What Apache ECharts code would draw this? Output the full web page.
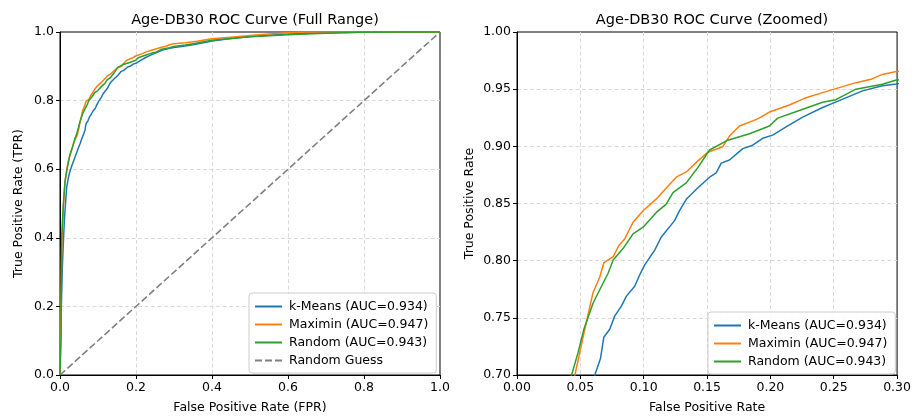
<!DOCTYPE html>
<html>
<head>
<meta charset="utf-8">
<title>Age-DB30 ROC</title>
<script src="https://cdn.jsdelivr.net/npm/echarts@6/dist/echarts.min.js"></script>
<style>
    html, body { margin: 0; padding: 0; background: #fff; }
    #chart { width: 914px; height: 419px; }
</style>
</head>
<body>
<div id="chart"></div>
<script>
// ROC points [FPR, TPR]
var kmeansRoc = [[0,0],[0.002,0.12],[0.004,0.22],[0.006,0.31],[0.009,0.39],[0.0114,0.45],[0.0145,0.50],[0.0175,0.546],[0.022,0.575],[0.0263,0.594],[0.031,0.61],[0.035,0.622],[0.041,0.64],[0.048,0.661],[0.053,0.675],[0.057,0.688],[0.0614,0.70],[0.0659,0.7144],[0.0685,0.733],[0.0732,0.740],[0.0772,0.7517],[0.0824,0.7603],[0.0864,0.769],[0.0929,0.7776],[0.0969,0.7877],[0.1008,0.7963],[0.1087,0.8092],[0.1139,0.8207],[0.1244,0.835],[0.1283,0.8437],[0.1336,0.8537],[0.1428,0.8638],[0.152,0.873],[0.1572,0.8767],[0.1612,0.8853],[0.1677,0.888],[0.1782,0.898],[0.186,0.901],[0.1939,0.907],[0.2018,0.9098],[0.2124,0.917],[0.2255,0.9256],[0.2412,0.934],[0.2543,0.940],[0.2727,0.9485],[0.2884,0.9529],[0.2994,0.9546],[0.32,0.958],[0.35,0.963],[0.4,0.974],[0.45,0.981],[0.5,0.987],[0.6,0.994],[0.7,0.998],[0.8,1.0],[1.0,1.0]];
var maximinRoc = [[0,0],[0.002,0.15],[0.0044,0.37],[0.0088,0.49],[0.013,0.56],[0.018,0.60],[0.022,0.625],[0.027,0.645],[0.033,0.665],[0.039,0.685],[0.0457,0.70],[0.0496,0.72],[0.0535,0.74],[0.060,0.772],[0.0654,0.786],[0.0685,0.798],[0.0759,0.8035],[0.0806,0.8135],[0.085,0.819],[0.0916,0.8336],[0.0995,0.8437],[0.110,0.854],[0.118,0.8638],[0.1257,0.873],[0.1336,0.8776],[0.1428,0.8873],[0.1506,0.8948],[0.1624,0.8997],[0.1677,0.909],[0.1756,0.9178],[0.19,0.924],[0.1992,0.930],[0.215,0.9362],[0.2268,0.942],[0.2412,0.947],[0.2517,0.9505],[0.2675,0.9557],[0.2793,0.9586],[0.2884,0.9629],[0.2994,0.9655],[0.33,0.969],[0.36,0.973],[0.4,0.980],[0.45,0.985],[0.5,0.990],[0.55,0.994],[0.6,0.998],[0.65,1.0],[1.0,1.0]];
var randomRoc = [[0,0],[0.0026,0.115],[0.0044,0.40],[0.0088,0.498],[0.0132,0.565],[0.020,0.608],[0.0263,0.642],[0.033,0.665],[0.0395,0.69],[0.0431,0.70],[0.0483,0.72],[0.0528,0.74],[0.0601,0.763],[0.0667,0.7776],[0.0719,0.789],[0.0759,0.8006],[0.0837,0.8106],[0.0916,0.8235],[0.0995,0.8293],[0.110,0.8422],[0.1178,0.8494],[0.1231,0.8595],[0.1336,0.868],[0.1428,0.8816],[0.152,0.8968],[0.1664,0.9054],[0.1835,0.911],[0.1992,0.9178],[0.2058,0.9247],[0.2228,0.9313],[0.2412,0.9385],[0.2517,0.9408],[0.2675,0.950],[0.2884,0.9543],[0.2994,0.958],[0.33,0.962],[0.35,0.966],[0.4,0.976],[0.5,0.986],[0.6,0.992],[0.7,0.996],[0.8,0.999],[0.9,1.0],[1.0,1.0]];
var guessLine = [[0,0],[1,1]];

var seriesNames = ['k-Means (AUC=0.934)', 'Maximin (AUC=0.947)', 'Random (AUC=0.943)'];
var guessName = 'Random Guess';
var colors = ['#1f77b4', '#ff7f0e', '#2ca02c'];

var FONT = 'DejaVu Sans';
var solidIcon = 'path://M0,0h27v2h-27z';
var dashIcon = 'path://M0,0h7v2h-7z M10,0h7v2h-7z M20,0h7v2h-7z';

function axisCfg(idx, min, max, step, digits, name, gap) {
    return {
        type: 'value', gridIndex: idx, min: min, max: max, interval: step,
        name: name, nameLocation: 'middle', nameGap: gap,
        nameTextStyle: { fontFamily: FONT, fontSize: 12.5, color: '#000' },
        axisLine: { show: true, onZero: false, lineStyle: { color: '#000', width: 1 } },
        axisTick: { show: true, length: 4, lineStyle: { color: '#000' } },
        axisLabel: { fontFamily: FONT, fontSize: 12.5, color: '#000', margin: 6,
            formatter: function (v) { return v.toFixed(digits) } },
        // no grid line on the frame itself
        splitLine: { show: true, showMinLine: false, showMaxLine: false,
            lineStyle: { color: '#d9d9d9', type: [4, 2.5], width: 1 } }
    }
}

var rocData = [kmeansRoc, maximinRoc, randomRoc];
var series = [];
// same curves on both panels, the right one just clips
[0, 1].forEach(function (g) {
    rocData.forEach(function (d, i) {
        series.push({
            name: seriesNames[i], type: 'line', data: d,
            xAxisIndex: g, yAxisIndex: g,
            showSymbol: false, symbol: 'none', clip: true, animation: false,
            lineStyle: { color: colors[i], width: 1.5 },
            itemStyle: { color: colors[i] },
            z: 3 + i
        })
    })
});
series.push({
    name: guessName, type: 'line', data: guessLine,
    xAxisIndex: 0, yAxisIndex: 0, showSymbol: false, symbol: 'none', animation: false,
    lineStyle: { color: '#808080', width: 1.6, type: [7, 3] },
    itemStyle: { color: '#808080' },
    z: 2
});

var legendBase = {
    orient: 'vertical',
    backgroundColor: 'rgba(255,255,255,0.85)',
    borderColor: '#cccccc', borderWidth: 1, borderRadius: 3,
    padding: [7, 8, 6, 6],
    itemWidth: 27, itemHeight: 2, itemGap: 5,
    textStyle: { fontFamily: FONT, fontSize: 12.5, color: '#000', padding: [0, 0, 0, 2] },
    selectedMode: false
};

var option = {
    animation: false,
    backgroundColor: '#fff',
    title: [
        { text: 'Age-DB30 ROC Curve (Full Range)', left: 250, top: 8, textAlign: 'center',
          textStyle: { fontFamily: FONT, fontSize: 14.5, fontWeight: 'normal', color: '#000' } },
        { text: 'Age-DB30 ROC Curve (Zoomed)', left: 707, top: 8, textAlign: 'center',
          textStyle: { fontFamily: FONT, fontSize: 14.5, fontWeight: 'normal', color: '#000' } }
    ],
    grid: [
        { left: 60, top: 32, width: 380, height: 348, show: true, borderColor: '#000', borderWidth: 1 },
        { left: 517, top: 32, width: 381, height: 348, show: true, borderColor: '#000', borderWidth: 1 }
    ],
    xAxis: [
        axisCfg(0, 0, 1, 0.2, 1, 'False Positive Rate (FPR)', 26),
        axisCfg(1, 0, 0.3, 0.05, 2, 'False Positive Rate', 26)
    ],
    yAxis: [
        axisCfg(0, 0, 1, 0.2, 1, 'True Positive Rate (TPR)', 35),
        axisCfg(1, 0.7, 1.0, 0.05, 2, 'True Positive Rate', 41)
    ],
    legend: [
        Object.assign({}, legendBase, {
            left: 249, top: 293,
            data: [
                { name: seriesNames[0], icon: solidIcon },
                { name: seriesNames[1], icon: solidIcon },
                { name: seriesNames[2], icon: solidIcon },
                { name: guessName, icon: dashIcon }
            ]
        }),
        Object.assign({}, legendBase, {
            left: 708, top: 312,
            data: [
                { name: seriesNames[0], icon: solidIcon },
                { name: seriesNames[1], icon: solidIcon },
                { name: seriesNames[2], icon: solidIcon }
            ]
        })
    ],
    series: series
};

var chart = echarts.init(document.getElementById('chart'), null, { renderer: 'canvas' });
chart.setOption(option);
</script>
</body>
</html>
